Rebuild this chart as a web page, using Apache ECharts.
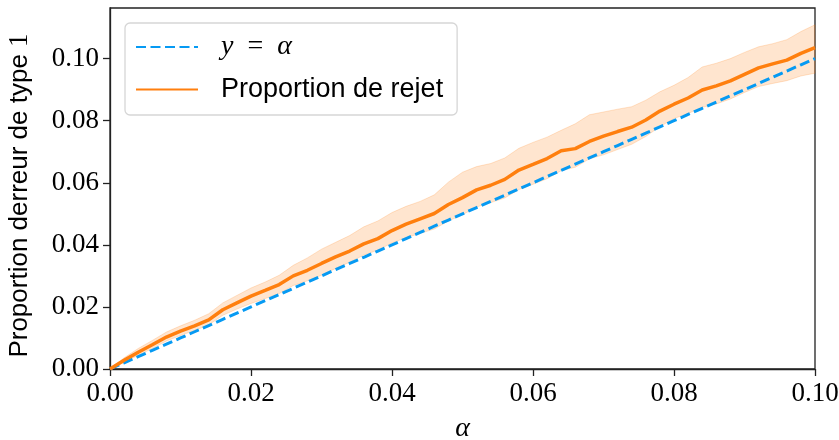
<!DOCTYPE html>
<html>
<head>
<meta charset="utf-8">
<script src="https://cdn.jsdelivr.net/npm/echarts@6/dist/echarts.min.js"></script>
<style>
  html, body { margin: 0; padding: 0; background: #fff; }
  #chart { width: 839px; height: 440px; }
</style>
</head>
<body>
<div id="chart"></div>
<script>
// Significance levels (x) and the observed rejection proportion with its band
const alpha = [0, 0.002, 0.004, 0.006, 0.008, 0.010, 0.012, 0.014, 0.016, 0.018,
  0.020, 0.022, 0.024, 0.026, 0.028, 0.030, 0.032, 0.034, 0.036, 0.038,
  0.040, 0.042, 0.044, 0.046, 0.048, 0.050, 0.052, 0.054, 0.056, 0.058,
  0.060, 0.062, 0.064, 0.066, 0.068, 0.070, 0.072, 0.074, 0.076, 0.078,
  0.080, 0.082, 0.084, 0.086, 0.088, 0.090, 0.092, 0.094, 0.096, 0.098, 0.100];

const rejet = [0, 0.0028, 0.0054, 0.0078, 0.0103, 0.0122, 0.0139, 0.0158, 0.0191, 0.0213,
  0.0235, 0.0253, 0.0272, 0.0300, 0.0318, 0.0340, 0.0361, 0.0380, 0.0403, 0.0420,
  0.0446, 0.0467, 0.0484, 0.0501, 0.0530, 0.0552, 0.0577, 0.0592, 0.0611, 0.0641,
  0.0659, 0.0678, 0.0703, 0.0710, 0.0733, 0.0750, 0.0765, 0.0779, 0.0802, 0.0831,
  0.0853, 0.0873, 0.0899, 0.0912, 0.0928, 0.0949, 0.0970, 0.0983, 0.0995, 0.1017, 0.1035];

const bandHaut = [0, 0.0036, 0.0066, 0.0092, 0.0119, 0.0139, 0.0157, 0.0178, 0.0213, 0.0237,
  0.0261, 0.0280, 0.0302, 0.0334, 0.0358, 0.0386, 0.0408, 0.0430, 0.0458, 0.0477,
  0.0504, 0.0524, 0.0540, 0.0561, 0.0602, 0.0634, 0.0652, 0.0662, 0.0680, 0.0711,
  0.0730, 0.0747, 0.0769, 0.0790, 0.0819, 0.0828, 0.0837, 0.0845, 0.0866, 0.0893,
  0.0914, 0.0939, 0.0973, 0.0985, 0.1000, 0.1020, 0.1038, 0.1048, 0.1061, 0.1087, 0.1109];

const bandBas = [0, 0.0021, 0.0044, 0.0066, 0.0090, 0.0108, 0.0124, 0.0142, 0.0173, 0.0193,
  0.0211, 0.0227, 0.0243, 0.0269, 0.0284, 0.0302, 0.0324, 0.0344, 0.0367, 0.0383,
  0.0406, 0.0423, 0.0437, 0.0451, 0.0477, 0.0497, 0.0522, 0.0536, 0.0551, 0.0578,
  0.0595, 0.0613, 0.0639, 0.0650, 0.0677, 0.0690, 0.0707, 0.0724, 0.0749, 0.0781,
  0.0807, 0.0823, 0.0843, 0.0854, 0.0870, 0.0891, 0.0910, 0.0920, 0.0929, 0.0944, 0.0953];

const ticksX = [0, 0.02, 0.04, 0.06, 0.08, 0.10];
const ticksY = [0, 0.02, 0.04, 0.06, 0.08, 0.10];

const ORANGE = '#ff7f0e';
const BLUE = '#069af3';
const SERIF = '"Liberation Serif", "DejaVu Serif", serif';
const SANS = '"Liberation Sans", "DejaVu Sans", sans-serif';

const chart = echarts.init(document.getElementById('chart'), null, { renderer: 'canvas' });

// Confidence band as one filled polygon: upper edge forward, lower edge back
function renderBand(params, api) {
  if (params.dataIndex !== 0) return null;
  const top = alpha.map((a, i) => api.coord([a, bandHaut[i]]));
  const bot = alpha.map((a, i) => api.coord([a, bandBas[i]])).reverse();
  return {
    type: 'polygon',
    shape: { points: top.concat(bot) },
    style: { fill: 'rgba(255,127,14,0.2)', stroke: 'rgba(255,127,14,0.2)', lineWidth: 1 }
  };
}

const option = {
  backgroundColor: '#fff',
  animation: false,
  grid: {
    left: 110, right: 24, top: 8, bottom: 71, outerBoundsMode: 'none',
    show: true, borderColor: '#222', borderWidth: 1.3, backgroundColor: 'transparent'
  },
  legend: {
    left: 125, top: 23, orient: 'vertical',
    data: ['y = α', 'Proportion de rejet'],
    itemWidth: 62, itemHeight: 14, itemGap: 15,
    padding: [10, 14, 12, 10],
    itemStyle: { opacity: 0 },
    backgroundColor: 'rgba(255,255,255,0.8)',
    borderColor: '#d6d6d6', borderWidth: 1.3, borderRadius: 5,
    formatter: function (name) {
      if (name === 'y = α') return '{m|y}{r|\u2002=\u2002}{m|α}';
      return '{s|' + name + '}';
    },
    textStyle: {
      padding: [0, 0, 0, 18],
      rich: {
        m: { fontFamily: SERIF, fontStyle: 'italic', fontSize: 28, color: '#000', lineHeight: 30 },
        r: { fontFamily: SERIF, fontSize: 28, color: '#000', lineHeight: 30 },
        s: { fontFamily: SANS, fontSize: 27, color: '#000', lineHeight: 30 }
      }
    }
  },
  xAxis: {
    type: 'value', min: 0, max: 0.1, interval: 0.02,
    name: 'α', nameLocation: 'middle', nameGap: 46,
    nameTextStyle: { fontFamily: SERIF, fontStyle: 'italic', fontSize: 28, color: '#000' },
    axisLine: { show: true, lineStyle: { color: '#222', width: 1.3 } },
    axisTick: { show: true, length: 7, lineStyle: { color: '#222', width: 1.3 }, customValues: ticksX },
    axisLabel: { margin: 11, fontFamily: SERIF, fontSize: 27, color: '#000', customValues: ticksX,
      formatter: v => v.toFixed(2) },
    splitLine: { show: false }
  },
  yAxis: {
    type: 'value', min: 0, max: 0.1163,
    name: 'Proportion derreur de type {n|1}', nameLocation: 'middle', nameGap: 77,
    nameTextStyle: { fontFamily: SANS, fontSize: 26, color: '#000', padding: [0, 14, 0, 0],
      rich: { n: { fontFamily: SERIF, fontSize: 27, color: '#000' } } },
    axisLine: { show: true, lineStyle: { color: '#222', width: 1.3 } },
    axisTick: { show: true, length: 7, lineStyle: { color: '#222', width: 1.3 }, customValues: ticksY },
    axisLabel: { margin: 11, fontFamily: SERIF, fontSize: 27, color: '#000', customValues: ticksY,
      formatter: v => v.toFixed(2) },
    splitLine: { show: false }
  },
  series: [
    {
      type: 'custom', name: 'bande', z: 1, silent: true,
      renderItem: renderBand,
      data: alpha.map((a, i) => [a, bandBas[i], bandHaut[i]]),
      encode: { x: 0, y: [1, 2] }
    },
    {
      type: 'line', name: 'y = α', z: 2, symbol: 'none',
      data: alpha.map(a => [a, a]),
      lineStyle: { color: BLUE, width: 3, type: [10, 4.5] },
      itemStyle: { color: BLUE }
    },
    {
      type: 'line', name: 'Proportion de rejet', z: 3, symbol: 'none',
      data: alpha.map((a, i) => [a, rejet[i]]),
      lineStyle: { color: ORANGE, width: 3.5 },
      itemStyle: { color: ORANGE }
    }
  ]
};

chart.setOption(option);
</script>
</body>
</html>
